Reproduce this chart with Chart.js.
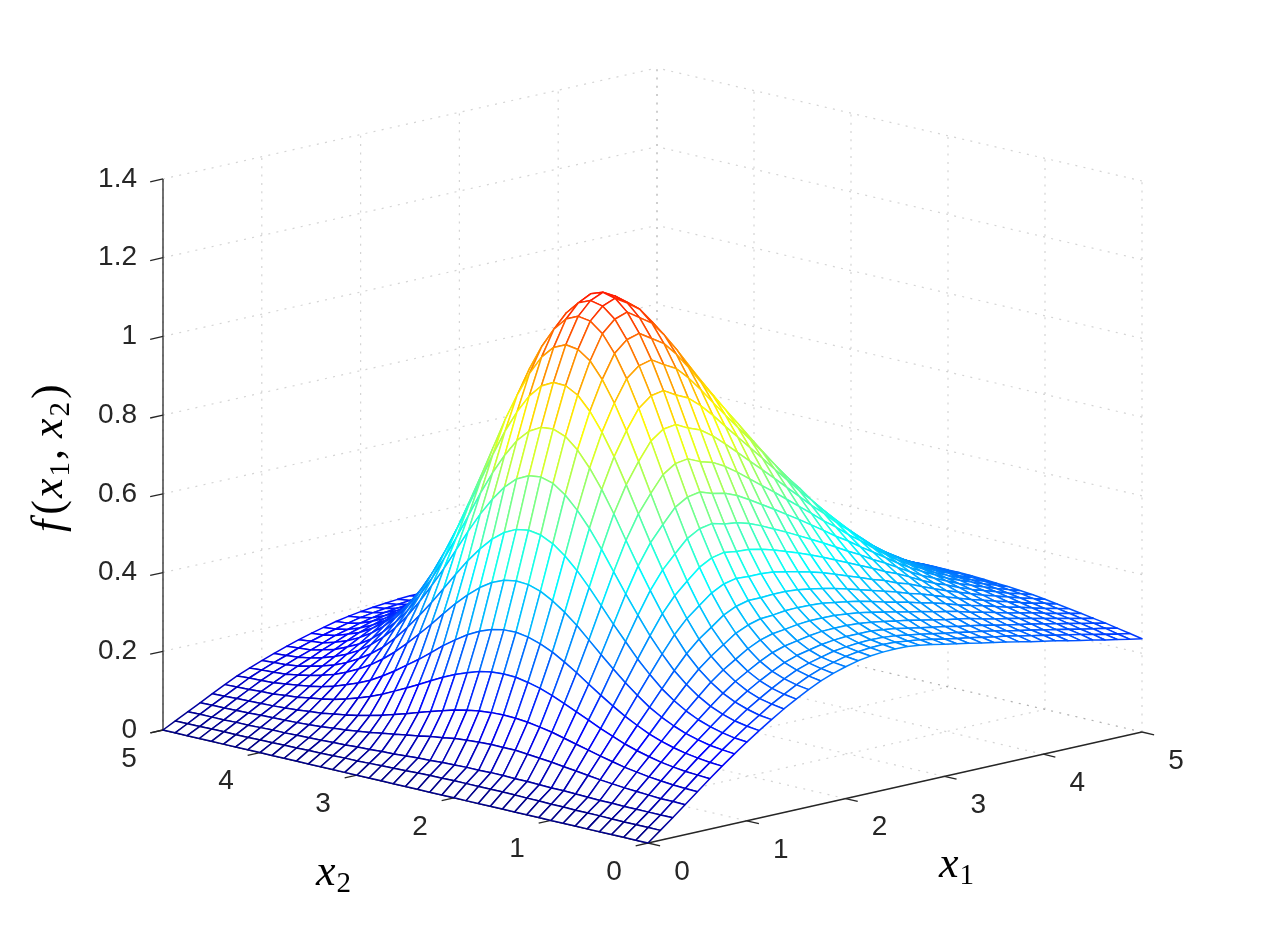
<!DOCTYPE html>
<html>
<head>
<meta charset="utf-8">
<title>f(x1,x2)</title>
<script src="https://cdn.jsdelivr.net/npm/chart.js@4"></script>
<style>
    body { margin: 0; background: white; }
    canvas { display: block; }
</style>
</head>
<body>
<canvas id="surface-canvas" width="1262" height="947"></canvas>
<script>
var x1Ticks = [0, 1, 2, 3, 4, 5];
var x2Ticks = [0, 1, 2, 3, 4, 5];
var zTicks = [0, 0.2, 0.4, 0.6, 0.8, 1, 1.2, 1.4];
var zTickLabels = ['0', '0.2', '0.4', '0.6', '0.8', '1', '1.2', '1.4'];

var meshX1 = [0,0.125,0.25,0.375,0.5,0.625,0.75,0.875,1,1.125,1.25,1.375,1.5,1.625,1.75,1.875,2,2.125,2.25,2.375,2.5,2.625,2.75,2.875,3,3.125,3.25,3.375,3.5,3.625,3.75,3.875,4,4.125,4.25,4.375,4.5,4.625,4.75,4.875,5];
var meshX2 = [0,0.125,0.25,0.375,0.5,0.625,0.75,0.875,1,1.125,1.25,1.375,1.5,1.625,1.75,1.875,2,2.125,2.25,2.375,2.5,2.625,2.75,2.875,3,3.125,3.25,3.375,3.5,3.625,3.75,3.875,4,4.125,4.25,4.375,4.5,4.625,4.75,4.875,5];

// surface height in thousandths, one row per meshX1 value, one column per meshX2 value
var surfaceZ = [
[0,0,0,0,0,0,0,0,0,0,0,0,0,0,0,0,0,0,0,0,0,0,0,0,0,0,0,0,0,0,0,0,0,0,0,0,0,0,0,0,0],
[25,25,25,25,25,26,26,26,27,27,28,28,29,29,29,29,29,29,28,28,27,26,25,24,23,22,22,21,20,20,19,19,18,18,17,17,17,17,16,16,16],
[50,50,50,50,50,51,51,52,53,54,54,55,56,56,57,57,56,56,55,54,52,51,49,47,46,44,43,41,40,39,38,37,36,36,35,34,34,33,33,33,32],
[76,77,77,79,81,83,86,89,93,97,101,105,108,111,114,114,114,113,111,108,103,99,93,88,83,78,73,69,65,62,59,57,55,54,53,52,51,50,49,49,48],
[102,103,105,108,111,116,121,128,135,143,151,159,167,173,178,181,182,181,178,173,166,157,148,138,128,119,110,102,95,89,84,79,76,73,71,69,68,67,66,65,64],
[128,130,132,136,141,148,156,166,178,191,205,219,233,246,257,265,271,272,270,264,254,242,228,212,195,179,164,149,136,125,115,107,101,96,91,88,85,84,82,81,80],
[153,155,159,164,171,180,191,206,222,241,261,282,304,324,342,356,366,371,370,364,352,336,316,294,269,245,223,201,181,163,149,137,126,118,112,107,103,99,98,97,95],
[177,180,184,191,200,212,227,245,268,293,321,350,380,410,436,458,475,485,487,482,469,449,423,394,361,327,295,264,235,210,188,170,155,142,133,125,119,114,112,110,108],
[200,203,209,217,228,243,262,285,314,346,383,420,460,499,535,565,589,604,609,604,589,565,533,496,454,411,368,328,290,256,226,202,182,165,152,142,134,128,124,122,120],
[222,226,232,242,255,273,296,324,359,398,443,490,539,589,635,674,706,728,737,733,718,690,652,607,556,501,447,397,349,306,268,237,211,189,172,159,149,141,136,133,131],
[243,247,255,266,281,302,328,360,401,447,499,554,612,672,727,774,813,840,852,849,832,801,757,705,646,581,518,458,401,351,305,268,237,211,191,176,163,155,147,145,142],
[263,268,275,287,304,326,354,390,435,486,544,606,672,739,803,858,904,938,955,956,940,907,860,803,737,665,593,524,459,400,347,302,266,236,212,193,178,167,158,155,152],
[281,286,294,306,323,346,376,413,461,516,578,645,717,791,862,925,978,1018,1040,1045,1031,999,950,889,819,740,661,585,512,446,386,335,293,259,231,209,192,180,170,164,161],
[298,303,311,323,341,366,398,437,486,544,610,682,758,836,912,980,1037,1080,1105,1110,1096,1063,1012,949,873,791,706,624,547,476,412,357,312,275,245,221,203,189,178,172,169],
[313,318,326,338,356,381,412,452,502,561,628,701,779,859,937,1006,1065,1110,1136,1143,1130,1097,1045,980,904,819,732,648,569,495,430,373,326,288,257,232,213,199,187,180,177],
[325,330,337,349,366,390,421,460,509,568,634,707,784,864,943,1014,1074,1121,1149,1157,1146,1115,1065,999,924,839,752,667,586,511,444,386,338,299,267,241,221,206,194,187,183],
[335,339,345,356,372,394,423,460,507,563,626,696,770,848,925,995,1054,1100,1130,1140,1130,1101,1054,992,919,838,752,669,590,516,450,392,344,305,273,247,228,212,200,192,188],
[343,347,353,363,378,399,427,462,507,561,622,690,761,836,910,978,1034,1079,1107,1117,1107,1079,1034,973,903,823,740,660,583,512,448,391,345,307,275,250,231,216,204,196,192],
[348,352,357,367,382,402,428,462,504,555,613,677,744,814,884,947,1000,1042,1068,1077,1068,1041,998,941,874,799,721,644,571,503,442,389,344,308,277,253,234,219,207,199,195],
[351,355,360,369,383,402,427,459,498,546,600,659,722,787,852,910,959,998,1022,1029,1021,995,955,902,840,770,696,625,556,493,435,384,342,307,278,255,236,222,210,202,198],
[352,356,361,369,383,401,425,454,491,535,585,640,698,758,817,870,915,950,972,979,971,947,910,861,803,738,670,604,541,481,427,379,339,306,278,256,238,224,212,204,200],
[351,355,360,369,381,398,420,448,483,524,570,621,674,729,783,831,872,904,924,930,922,900,866,820,767,707,645,583,524,468,418,373,335,304,277,255,238,223,212,204,200],
[347,351,357,365,377,394,415,441,474,512,554,601,650,700,749,793,830,859,877,882,874,855,823,781,733,678,620,564,509,457,410,368,332,301,276,254,237,223,212,204,200],
[342,347,352,361,372,388,409,433,463,499,538,581,625,671,715,755,788,813,829,833,827,808,780,742,698,648,595,544,493,445,401,362,328,299,274,254,237,223,212,204,200],
[336,341,347,355,366,382,401,424,452,485,521,560,600,641,680,716,745,768,781,785,779,762,736,702,662,617,570,523,476,432,392,355,323,295,272,252,235,222,211,202,199],
[330,335,341,349,361,375,393,415,441,471,504,539,575,611,646,677,703,723,735,738,732,717,694,664,628,588,545,502,460,420,382,348,318,292,269,250,234,220,209,201,198],
[324,329,335,343,354,368,385,406,429,457,486,517,549,581,611,638,660,677,687,689,684,671,650,624,592,557,519,481,443,406,372,341,312,288,266,248,232,219,208,200,197],
[318,324,330,338,348,362,378,397,419,443,470,498,526,554,580,603,622,636,644,646,641,629,611,588,560,529,496,462,427,394,363,334,308,284,264,246,231,218,207,199,196],
[312,318,324,331,341,354,369,386,406,428,451,476,500,524,546,565,581,593,599,600,596,586,570,550,526,499,470,440,410,380,352,326,301,280,260,243,229,216,206,198,195],
[306,312,319,326,336,348,362,378,396,415,435,456,477,497,515,532,545,554,559,560,556,547,533,516,496,472,447,421,394,368,343,319,297,277,258,242,228,215,205,197,194],
[300,307,313,320,330,341,353,367,383,400,417,435,452,469,484,498,508,516,520,520,516,508,497,482,464,444,423,400,377,354,331,310,290,272,254,239,225,213,203,195,192],
[293,300,306,313,322,332,343,356,370,384,399,414,429,443,456,467,476,482,485,485,481,475,464,452,437,419,400,381,361,340,321,301,283,266,251,236,223,211,201,194,191],
[287,294,300,307,315,325,335,346,358,370,382,395,407,419,429,438,444,449,451,451,448,442,433,423,410,395,379,362,344,326,309,292,275,260,246,232,220,209,199,192,189],
[281,288,294,301,309,317,327,336,347,358,368,378,388,398,406,413,418,422,423,422,420,415,408,398,387,374,360,345,330,314,298,283,268,254,241,228,217,207,197,191,187],
[274,281,287,295,302,309,318,327,336,345,354,363,371,378,386,391,395,398,399,398,396,391,385,377,367,356,344,331,317,304,289,276,262,249,237,225,215,205,196,190,186],
[268,275,281,288,295,302,309,317,325,333,340,347,354,360,366,370,373,375,375,374,372,368,363,356,348,338,328,316,304,292,280,267,255,243,232,221,212,202,194,188,184],
[262,269,275,282,288,295,302,309,316,323,329,335,340,345,350,353,355,356,356,355,354,350,346,340,333,324,315,305,294,283,272,260,249,238,228,218,209,199,192,186,182],
[255,262,268,275,281,287,293,300,307,313,318,323,327,332,335,338,339,340,340,339,337,335,331,325,319,312,304,295,285,275,265,254,244,234,224,214,206,197,190,184,180],
[249,255,262,268,274,279,285,291,297,302,307,311,314,317,321,322,323,324,323,322,321,318,315,310,305,298,292,283,275,266,257,247,238,228,219,210,202,194,188,182,178],
[243,249,256,262,267,273,278,284,289,294,297,301,304,306,309,310,311,311,310,309,308,306,303,299,294,288,283,275,267,259,250,242,233,224,215,207,199,192,185,180,176],
[237,243,249,255,260,265,270,275,280,284,287,290,292,294,296,297,297,297,296,295,294,292,290,286,282,277,272,265,258,251,243,235,227,219,211,203,196,189,183,178,174]
];

// view of the 3D box: where the origin lands and how far one unit moves on the page
var originX = 648, originY = 843;
var x1StepX = 98.8, x1StepY = -22.2;
var x2StepX = -97, x2StepY = -22.6;
var zStepY = -393.6;

function project(x1, x2, z) {
    return {
        x: originX + x1 * x1StepX + x2 * x2StepX,
        y: originY + x1 * x1StepY + x2 * x2StepY + z * zStepY
    };
}

function jet(t) {
    var clamp = v => Math.max(0, Math.min(1, v));
    var r = clamp(Math.min(4 * t - 1.5, 4.5 - 4 * t));
    var g = clamp(Math.min(4 * t - 0.5, 3.5 - 4 * t));
    var b = clamp(Math.min(4 * t + 0.5, 2.5 - 4 * t));
    return `rgb(${Math.round(r * 255)}, ${Math.round(g * 255)}, ${Math.round(b * 255)})`;
}

function lineDataset(a, b, color, dash, width) {
    return {
        data: [a, b],
        showLine: true,
        fill: false,
        pointRadius: 0,
        borderColor: color,
        borderWidth: width,
        borderDash: dash
    };
}

var colorTop = 1.35;
var datasets = [];

// first dataset is painted last, so quads go nearest corner first
for (var sum = 0; sum <= 78; sum++) {
    for (var i = 0; i < meshX1.length - 1; i++) {
        var j = sum - i;
        if (j < 0 || j >= meshX2.length - 1) continue;
        var z00 = surfaceZ[i][j] / 1000, z10 = surfaceZ[i + 1][j] / 1000;
        var z11 = surfaceZ[i + 1][j + 1] / 1000, z01 = surfaceZ[i][j + 1] / 1000;
        datasets.push({
            data: [
                project(meshX1[i], meshX2[j], z00),
                project(meshX1[i + 1], meshX2[j], z10),
                project(meshX1[i + 1], meshX2[j + 1], z11),
                project(meshX1[i], meshX2[j + 1], z01),
                project(meshX1[i], meshX2[j], z00)
            ],
            showLine: true,
            fill: 'shape',
            backgroundColor: 'white',
            pointRadius: 0,
            tension: 0,
            borderWidth: 1.5,
            borderJoinStyle: 'round',
            borderColor: jet((z00 + z10 + z11 + z01) / 4 / colorTop)
        });
    }
}

// axes and tick marks
var axisColor = '#262626';
var x1Max = x1Ticks[x1Ticks.length - 1], x2Max = x2Ticks[x2Ticks.length - 1], zMax = zTicks[zTicks.length - 1];
datasets.push(lineDataset(project(0, 0, 0), project(x1Max, 0, 0), axisColor, [], 1.3));
datasets.push(lineDataset(project(0, 0, 0), project(0, x2Max, 0), axisColor, [], 1.3));
datasets.push(lineDataset(project(0, x2Max, 0), project(0, x2Max, zMax), axisColor, [], 1.3));
x1Ticks.forEach(v => datasets.push(lineDataset(project(v, 0, 0), project(v, -0.125, 0), axisColor, [], 1.3)));
x2Ticks.forEach(v => datasets.push(lineDataset(project(0, v, 0), project(-0.125, v, 0), axisColor, [], 1.3)));
zTicks.forEach(v => datasets.push(lineDataset(project(0, x2Max, v), project(-0.13, x2Max, v), axisColor, [], 1.3)));

// dotted grid on the floor and the two back walls
var gridColor = 'rgba(38, 38, 38, 0.2)';
var gridDash = [2, 6.3];
x1Ticks.forEach(v => {
    datasets.push(lineDataset(project(v, 0, 0), project(v, x2Max, 0), gridColor, gridDash, 1.2));
    datasets.push(lineDataset(project(v, x2Max, 0), project(v, x2Max, zMax), gridColor, gridDash, 1.2));
});
x2Ticks.forEach(v => {
    datasets.push(lineDataset(project(0, v, 0), project(x1Max, v, 0), gridColor, gridDash, 1.2));
    datasets.push(lineDataset(project(x1Max, v, 0), project(x1Max, v, zMax), gridColor, gridDash, 1.2));
});
zTicks.forEach(v => {
    datasets.push(lineDataset(project(0, x2Max, v), project(x1Max, x2Max, v), gridColor, gridDash, 1.2));
    datasets.push(lineDataset(project(x1Max, 0, v), project(x1Max, x2Max, v), gridColor, gridDash, 1.2));
});

// math labels, written piece by piece so the subscripts can drop
function drawMath(ctx, x, y, pieces, angle) {
    ctx.save();
    ctx.translate(x, y);
    ctx.rotate(angle);
    ctx.textAlign = 'left';
    ctx.textBaseline = 'alphabetic';
    ctx.fillStyle = '#000000';
    var pen = 0;
    pieces.forEach(p => {
        ctx.font = p.font;
        ctx.fillText(p.text, pen, p.drop || 0);
        pen += ctx.measureText(p.text).width + (p.gap || 0);
    });
    ctx.restore();
}

var mathItalic = 'italic 44px "Liberation Serif"';
var mathUpright = '44px "Liberation Serif"';
var mathSub = '29px "Liberation Serif"';

var labelsPlugin = {
    id: 'axisLabels',
    afterDraw: function (chart) {
        var ctx = chart.ctx;
        var sx = chart.scales.x, sy = chart.scales.y;
        var px = p => ({ x: sx.getPixelForValue(p.x), y: sy.getPixelForValue(p.y) });

        ctx.save();
        ctx.font = '28px "Liberation Sans"';
        ctx.fillStyle = axisColor;
        ctx.textBaseline = 'middle';

        ctx.textAlign = 'right';
        zTicks.forEach((v, k) => {
            var p = px(project(0, x2Max, v));
            ctx.fillText(zTickLabels[k], p.x - 26, p.y);
        });

        ctx.textAlign = 'center';
        x1Ticks.forEach(v => {
            var p = px(project(v, 0, 0));
            ctx.fillText(String(v), p.x + 34, p.y + 29);
        });
        x2Ticks.forEach(v => {
            var p = px(project(0, v, 0));
            ctx.fillText(String(v), p.x - 34, p.y + 29);
        });
        ctx.restore();

        drawMath(ctx, 316, 885, [
            { text: 'x', font: mathItalic, gap: 1 },
            { text: '2', font: mathSub, drop: 7 }
        ], 0);
        drawMath(ctx, 939, 877, [
            { text: 'x', font: mathItalic, gap: 1 },
            { text: '1', font: mathSub, drop: 7 }
        ], 0);
        drawMath(ctx, 62, 532, [
            { text: 'f', font: mathItalic, gap: 5 },
            { text: '(', font: mathUpright, gap: 2 },
            { text: 'x', font: mathItalic, gap: 2 },
            { text: '1', font: mathSub, drop: 7, gap: 2 },
            { text: ',', font: mathUpright, gap: 11 },
            { text: 'x', font: mathItalic, gap: 2 },
            { text: '2', font: mathSub, drop: 7, gap: 3 },
            { text: ')', font: mathUpright }
        ], -Math.PI / 2);
    }
};

new Chart(document.getElementById('surface-canvas').getContext('2d'), {
    type: 'scatter',
    data: { datasets: datasets },
    plugins: [labelsPlugin],
    options: {
        responsive: false,
        animation: false,
        events: [],
        layout: { padding: 0 },
        scales: {
            x: { type: 'linear', display: false, min: 0, max: 1262 },
            y: { type: 'linear', display: false, min: 0, max: 947, reverse: true }
        },
        plugins: {
            legend: { display: false },
            tooltip: { enabled: false }
        }
    }
});
</script>
</body>
</html>
